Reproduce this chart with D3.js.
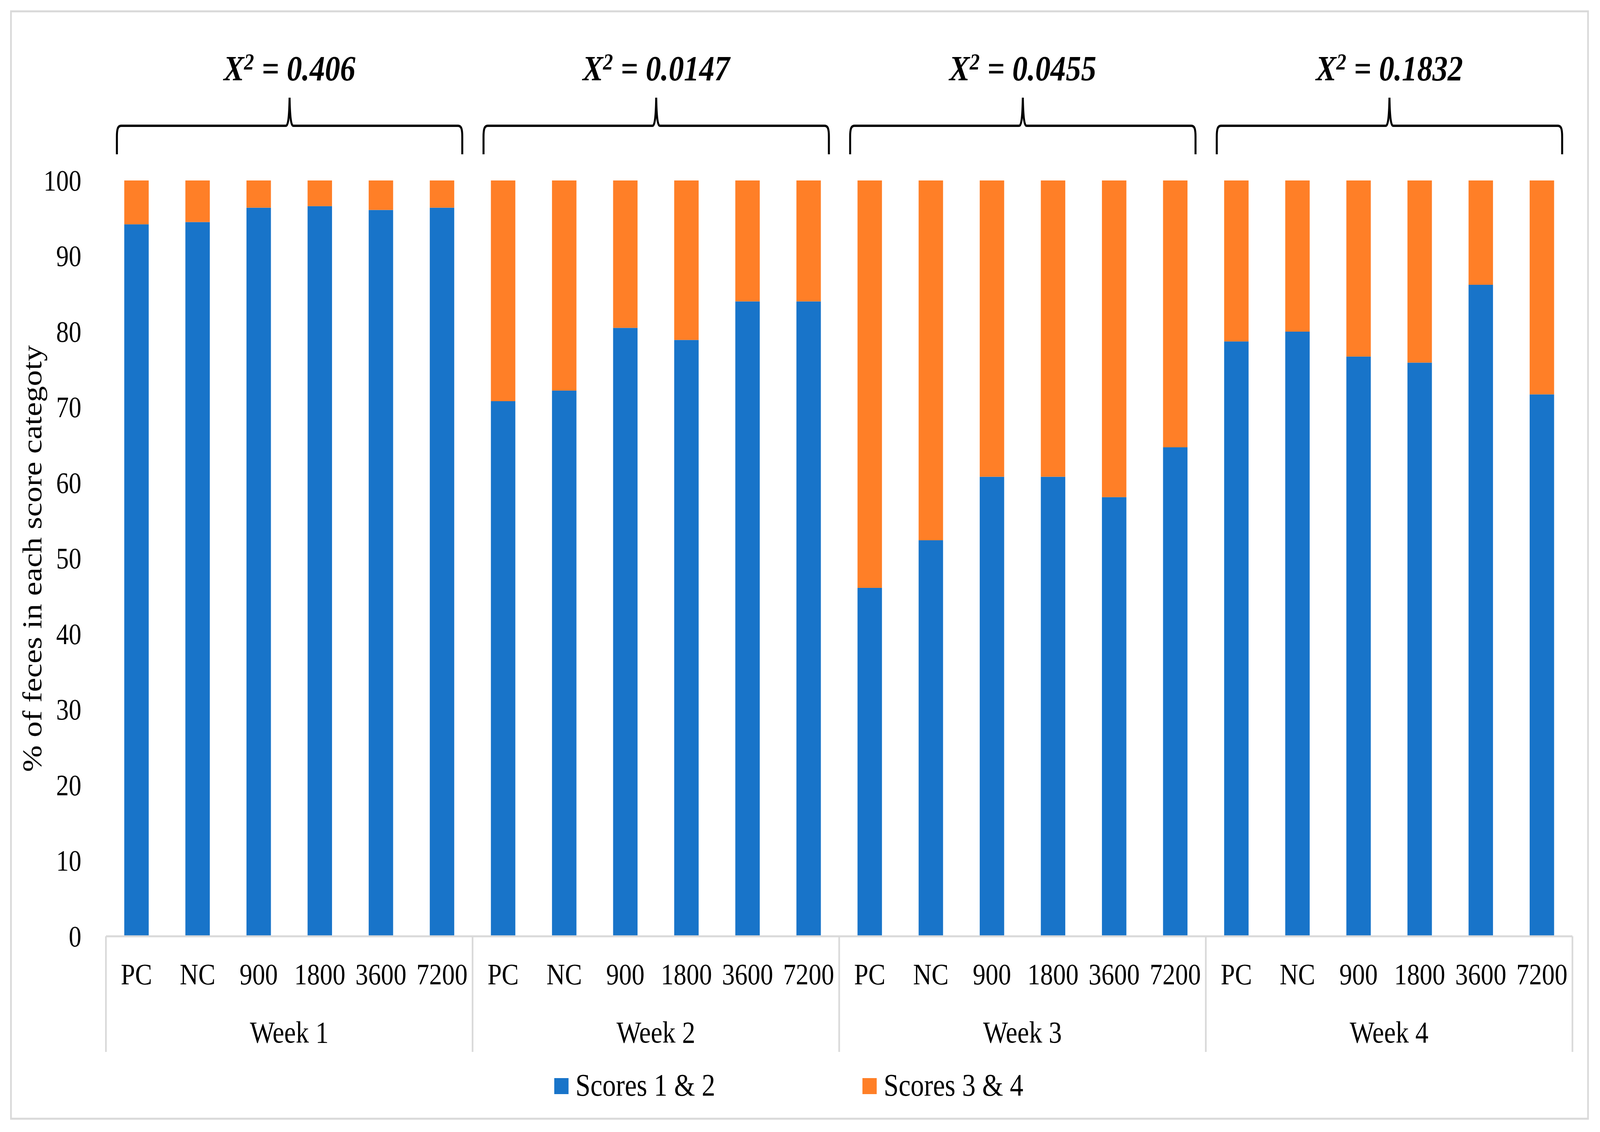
<!DOCTYPE html>
<html>
<head>
<meta charset="utf-8">
<script src="https://cdn.jsdelivr.net/npm/d3@7"></script>
<style>
  html, body { margin: 0; padding: 0; background: #fff; overflow: hidden; }
  #chart svg { display: block; width: 100vw; height: 100vh; }
  text { font-family: "Times New Roman", "Liberation Serif", serif; fill: #000; }
</style>
</head>
<body>
<div id="chart"></div>
<script>
const weeks = ["Week 1", "Week 2", "Week 3", "Week 4"];
const treatments = ["PC", "NC", "900", "1800", "3600", "7200"];
const chiValues = ["0.406", "0.0147", "0.0455", "0.1832"];
const seriesNames = ["Scores 1 & 2", "Scores 3 & 4"];
const colors = ["#1874c9", "#ff7f27"];

// % of feces with scores 1 & 2, per week, in treatment order
const scores12 = [
  [94.2, 94.5, 96.4, 96.6, 96.1, 96.4],
  [70.8, 72.2, 80.5, 78.9, 84.0, 84.0],
  [46.1, 52.4, 60.8, 60.8, 58.1, 64.7],
  [78.7, 80.0, 76.7, 75.9, 86.2, 71.7]
];
const yTicks = [0, 10, 20, 30, 40, 50, 60, 70, 80, 90, 100];

// drawing is laid out on the reference's 4818 x 2898 frame and stretched to the window
const width = 4818;
const height = 2898;

const rows = [];
weeks.forEach((w, wi) => {
  treatments.forEach((t, ti) => {
    const s12 = scores12[wi][ti];
    rows.push({key: w + "|" + t, week: w, wi, treatment: t, s12, s34: 100 - s12});
  });
});

const stacked = d3.stack().keys(["s12", "s34"])(rows);

const x = d3.scaleBand()
    .domain(rows.map(d => d.key))
    .range([319, 4735])
    .paddingInner(0.6)
    .paddingOuter(0.3);

const y = d3.scaleLinear()
    .domain([0, 100])
    .range([2397, 462]);

const groupWidth = x.step() * treatments.length;
const groupStart = wi => x.range()[0] + wi * groupWidth;

const svg = d3.select("#chart").append("svg")
    .attr("viewBox", [0, 0, width, height])
    .attr("preserveAspectRatio", "none");

svg.append("rect")
    .attr("width", width).attr("height", height)
    .attr("fill", "#fff");

// chart border
svg.append("rect")
    .attr("x", 33).attr("y", 29)
    .attr("width", 4749).attr("height", 2835)
    .attr("fill", "none")
    .attr("stroke", "#d9d9d9")
    .attr("stroke-width", 5);

// bars
svg.append("g")
  .selectAll("g")
  .data(stacked)
  .join("g")
    .attr("fill", (d, i) => colors[i])
  .selectAll("rect")
  .data(d => d)
  .join("rect")
    .attr("x", d => x(d.data.key))
    .attr("width", x.bandwidth())
    .attr("y", d => y(d[1]))
    .attr("height", d => y(d[0]) - y(d[1]));

// y axis labels (no axis line)
const yAxis = svg.append("g")
    .attr("transform", "translate(245,0)")
    .call(d3.axisLeft(y).tickValues(yTicks).tickSize(0).tickPadding(0));
yAxis.select(".domain").remove();
yAxis.selectAll("text")
    .attr("font-family", null)
    .attr("font-size", 76)
    .attr("dy", "0.33em");

svg.append("text")
    .attr("transform", "translate(125,1430) rotate(-90)")
    .attr("text-anchor", "middle")
    .attr("font-size", 82)
    .text("% of feces in each score categoty");

// horizontal axis line
svg.append("line")
    .attr("x1", x.range()[0]).attr("x2", x.range()[1])
    .attr("y1", y(0)).attr("y2", y(0))
    .attr("stroke", "#d9d9d9")
    .attr("stroke-width", 5);

// group separators
svg.append("g")
  .selectAll("line")
  .data(d3.range(weeks.length + 1))
  .join("line")
    .attr("x1", d => groupStart(d)).attr("x2", d => groupStart(d))
    .attr("y1", y(0)).attr("y2", 2693)
    .attr("stroke", "#d9d9d9")
    .attr("stroke-width", 5);

// treatment labels
svg.append("g")
  .selectAll("text")
  .data(rows)
  .join("text")
    .attr("x", d => x(d.key) + x.bandwidth() / 2)
    .attr("y", 2520)
    .attr("text-anchor", "middle")
    .attr("font-size", 77)
    .text(d => d.treatment);

// week labels
svg.append("g")
  .selectAll("text")
  .data(weeks)
  .join("text")
    .attr("x", (d, i) => groupStart(i) + groupWidth / 2)
    .attr("y", 2669)
    .attr("text-anchor", "middle")
    .attr("font-size", 79)
    .text(d => d);

// braces with chi-square values
const yTip = 250, yBar = 322, yEnd = 395;
function bracePath(xl, xr) {
  const xm = (xl + xr) / 2;
  return `M${xl},${yEnd} L${xl},${yBar + 28}
    C${xl},${yBar + 8} ${xl + 3},${yBar} ${xl + 13},${yBar}
    L${xm - 11},${yBar}
    C${xm - 4},${yBar} ${xm - 1},${yBar - 25} ${xm},${yTip}
    C${xm + 1},${yBar - 25} ${xm + 4},${yBar} ${xm + 11},${yBar}
    L${xr - 13},${yBar}
    C${xr - 3},${yBar} ${xr},${yBar + 8} ${xr},${yBar + 28}
    L${xr},${yEnd}`;
}

const braces = svg.append("g")
  .selectAll("g")
  .data(weeks)
  .join("g");

braces.append("path")
    .attr("d", (d, i) => bracePath(groupStart(i) + 33, groupStart(i + 1) - 31))
    .attr("fill", "none")
    .attr("stroke", "#000")
    .attr("stroke-width", 6);

const chi = braces.append("text")
    .attr("x", (d, i) => groupStart(i) + groupWidth / 2 + 1)
    .attr("y", 206)
    .attr("text-anchor", "middle")
    .attr("font-size", 92)
    .attr("font-weight", "bold")
    .attr("font-style", "italic");
chi.append("tspan").text("X");
chi.append("tspan").attr("font-size", 60).attr("dy", -28).text("2");
chi.append("tspan").attr("dy", 28).text((d, i) => " = " + chiValues[i]);

// legend
const legendX = [1669, 2597];
const legend = svg.append("g")
  .selectAll("g")
  .data(seriesNames)
  .join("g")
    .attr("transform", (d, i) => `translate(${legendX[i]},2760)`);
legend.append("rect")
    .attr("width", 43).attr("height", 41)
    .attr("fill", (d, i) => colors[i]);
legend.append("text")
    .attr("x", 64).attr("y", 45)
    .attr("font-size", 81)
    .text(d => d);
</script>
</body>
</html>
